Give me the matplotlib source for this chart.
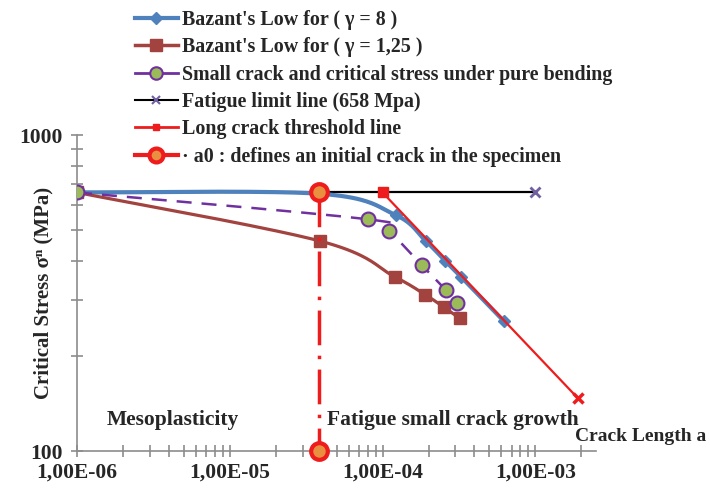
import numpy as np
import matplotlib
matplotlib.use("Agg")
import matplotlib.pyplot as plt
from matplotlib.lines import Line2D
from matplotlib.ticker import LogLocator, NullFormatter, FixedLocator, FixedFormatter

plt.rcParams['font.family'] = ['Liberation Serif', 'DejaVu Serif']
plt.rcParams['font.weight'] = 'bold'

# Bazant's law, gamma = 8
a_g8 = [1e-6, 3.85e-5, 1.22e-4, 1.92e-4, 2.58e-4, 3.28e-4, 6.26e-4]
s_g8 = [658, 652, 558, 462, 399, 355, 257]
# Bazant's law, gamma = 1.25
a_g125 = [1e-6, 3.89e-5, 1.20e-4, 1.91e-4, 2.53e-4, 3.20e-4]
s_g125 = [658, 462, 356, 312, 285, 263]
# small crack, pure bending
a_small = [1e-6, 8.05e-5, 1.10e-4, 1.80e-4, 2.60e-4, 3.09e-4]
s_small = [658, 541, 497, 388, 323, 293]
# fatigue limit
a_fat = [1e-6, 1e-3]
s_fat = [658, 658]
# long crack threshold
a_long = [1e-4, 1.9e-3]
s_long = [658, 147]
# a0
a_a0 = [3.85e-5, 3.85e-5]
s_a0 = [658, 100]


def smooth(xs, ys, n=40):
    # excel style smoothed line (catmull-rom bezier) in log space
    p = np.column_stack([np.log10(xs), np.log10(ys)])
    out = []
    for i in range(len(p) - 1):
        p0 = p[i - 1] if i > 0 else p[i]
        p1 = p[i]
        p2 = p[i + 1]
        p3 = p[i + 2] if i + 2 < len(p) else p[i + 1]
        c1 = p1 + (p2 - p0) / 6
        c2 = p2 - (p3 - p1) / 6
        t = np.linspace(0, 1, n)[:, None]
        seg = (1-t)**3*p1 + 3*(1-t)**2*t*c1 + 3*(1-t)*t**2*c2 + t**3*p2
        out.append(seg)
    out = np.vstack(out)
    return 10**out[:, 0], 10**out[:, 1]


c_blue = '#4F81BD'
c_brown = '#A3433F'
c_purple = '#7030A0'
c_green = '#9BBB59'
c_red = '#EE1C1C'
c_txt = '#262626'

fig = plt.figure(figsize=(7.1, 4.88), dpi=100)
ax = fig.add_axes([0.1085, 0.0758, 0.731, 0.6475])
ax.set_xscale('log')
ax.set_yscale('log')

ax.plot(a_fat, s_fat, color='black', lw=1.6, zorder=2)
ax.plot(a_fat[-1], s_fat[-1], marker='x', color='#7060A0', ms=7, mew=2, zorder=3)

x, y = smooth(a_g8, s_g8)
ax.plot(x, y, color=c_blue, lw=3, zorder=3)
ax.plot(a_g8, s_g8, ls='none', marker='D', color=c_blue, ms=6, zorder=3)

x, y = smooth(a_g125, s_g125)
ax.plot(x, y, color=c_brown, lw=2.3, zorder=3)
ax.plot(a_g125, s_g125, ls='none', marker='s', color=c_brown, ms=9, zorder=3)

x, y = smooth(a_small, s_small)
ax.plot(x, y, color=c_purple, lw=1.8, dashes=(6, 4), zorder=4)
ax.plot(a_small, s_small, ls='none', marker='o', mfc=c_green, mec=c_purple,
        mew=1.5, ms=10, zorder=4)

ax.plot(a_long, s_long, color=c_red, lw=1.6, zorder=5)
ax.plot(a_long[0], s_long[0], marker='s', color=c_red, ms=7, zorder=5)
ax.plot(a_long[1], s_long[1], marker='x', color=c_red, ms=7, mew=2.5, zorder=5)

ax.plot(a_a0, s_a0, color=c_red, lw=2.5, dashes=(10, 3, 1, 3), zorder=6)
ax.plot(a_a0, s_a0, ls='none', marker='o', mfc='#E89040', mec=c_red, mew=3,
        ms=12, zorder=7, clip_on=False)

ax.set_xlim(1e-6, 2.5e-3)
ax.set_ylim(100, 1000)

for s in ['top', 'right']:
    ax.spines[s].set_visible(False)
for s in ['left', 'bottom']:
    ax.spines[s].set_color('#8C8C8C')
    ax.spines[s].set_linewidth(1.2)

ax.xaxis.set_major_locator(FixedLocator([1e-6, 1e-5, 1e-4, 1e-3]))
ax.xaxis.set_major_formatter(FixedFormatter(['1,00E-06', '1,00E-05', '1,00E-04', '1,00E-03']))
ax.xaxis.set_minor_locator(LogLocator(base=10, subs=np.arange(2, 10)))
ax.xaxis.set_minor_formatter(NullFormatter())
ax.yaxis.set_major_locator(FixedLocator([100, 1000]))
ax.yaxis.set_major_formatter(FixedFormatter(['100', '1000']))
ax.yaxis.set_minor_locator(LogLocator(base=10, subs=np.arange(2, 10)))
ax.yaxis.set_minor_formatter(NullFormatter())
ax.tick_params(which='both', direction='inout', length=9, width=1.2, color='#8C8C8C',
               labelsize=15.5, labelcolor=c_txt)
ax.tick_params(axis='x', pad=4)
ax.tick_params(axis='y', pad=6)
for lab in ax.get_xticklabels() + ax.get_yticklabels():
    lab.set_fontweight('bold')

ax.set_ylabel('Critical Stress σⁿ (MPa)', fontsize=15, color=c_txt, fontweight='bold')
ax.yaxis.set_label_coords(-0.045, 0.5)

ax.text(1.57e-6, 125, 'Mesoplasticity', fontsize=15.5, color=c_txt, va='center')
ax.text(4.3e-5, 125, 'Fatigue small crack growth', fontsize=15.5, color=c_txt, va='center')
ax.text(1.82e-3, 111, 'Crack Length a', fontsize=14, color=c_txt, va='center',
        clip_on=False)

handles = [
    Line2D([], [], color=c_blue, lw=3, marker='D', ms=6),
    Line2D([], [], color=c_brown, lw=2.5, marker='s', ms=9),
    Line2D([], [], color=c_purple, lw=2, marker='o', mfc=c_green, mec=c_purple, mew=1.5, ms=9),
    Line2D([], [], color='black', lw=1.5, marker='x', mec='#7060A0', ms=6, mew=1.5),
    Line2D([], [], color=c_red, lw=2, marker='s', ms=5),
    Line2D([], [], color=c_red, lw=3, marker='o', mfc='#E89040', mec=c_red, mew=3, ms=10),
]
labels = [
    "Bazant's Low for ( γ = 8 )",
    "Bazant's Low for ( γ = 1,25 )",
    "Small crack and critical stress under pure bending",
    "Fatigue limit line (658 Mpa)",
    "Long crack threshold line",
    "· a0 : defines an initial crack in the specimen",
]
fig.legend(handles, labels, loc='upper left', bbox_to_anchor=(0.19, 0.98),
           frameon=False, fontsize=14.4, handlelength=2.15, handletextpad=0.2,
           labelspacing=0.37, borderpad=0, borderaxespad=0, labelcolor=c_txt)

fig.savefig('out.png', dpi=100)
